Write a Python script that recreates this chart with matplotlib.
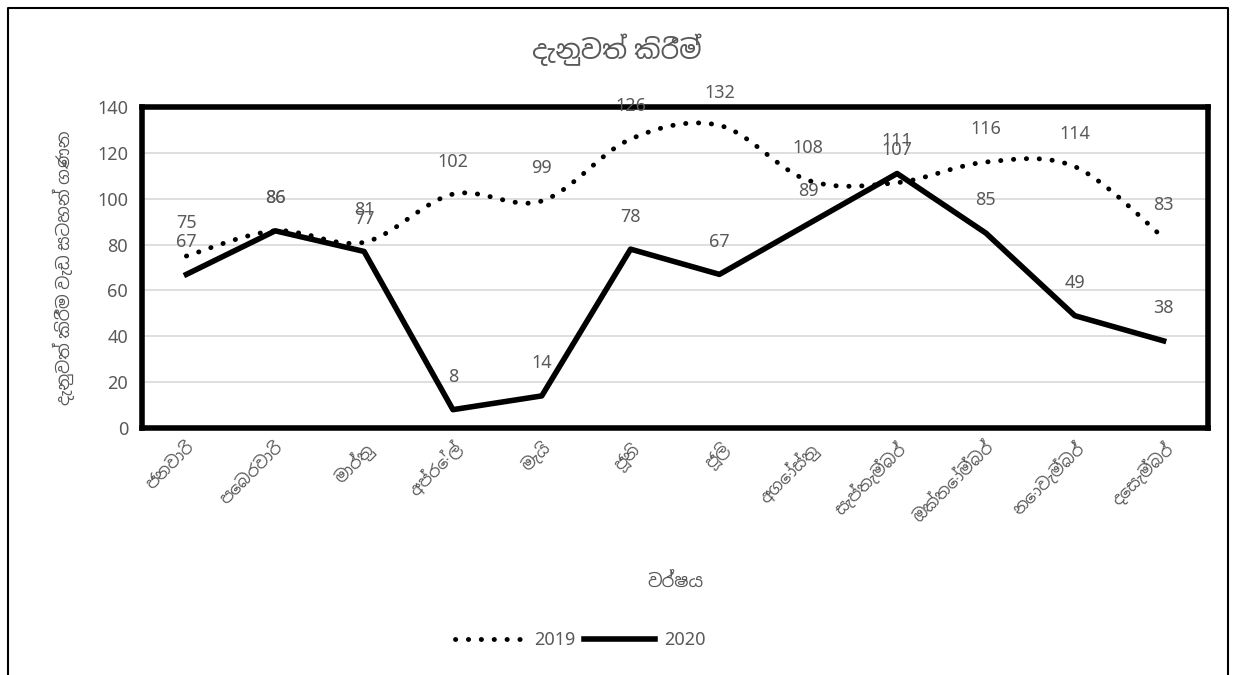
import matplotlib
matplotlib.use("Agg")
import matplotlib.pyplot as plt
from matplotlib.path import Path
from matplotlib.patches import PathPatch
from matplotlib.lines import Line2D

months = ["ජනවාරි", "පෙබරවාරි", "මාර්තු", "අප්‍රේල්", "මැයි", "ජූනි", "ජූලි",
          "අගෝස්තු", "සැප්තැම්බර්", "ඔක්තෝම්බර්", "නොවැම්බර්", "දෙසැම්බර්"]
y2019 = [75, 86, 81, 102, 99, 126, 132, 108, 107, 116, 114, 83]
y2020 = [67, 86, 77, 8, 14, 78, 67, 89, 111, 85, 49, 38]
title = "දැනුවත් කිරීම්"
ylabel = "දැනුවත් කිරීම වැඩ සටහන් ගණන"
xlabel = "වර්ෂය"

plt.rcParams["font.family"] = ["Noto Sans", "Noto Sans Sinhala", "DejaVu Sans"]

GRAY = "#595959"
DOTS = (0, (0.05, 2.6))
fig = plt.figure(figsize=(12.34, 6.75), dpi=100)
ax = fig.add_axes([142 / 1234, 1 - 428 / 675, 1066 / 1234, 321 / 675])

x = list(range(len(months)))

# smoothed 2019 line (Catmull-Rom drawn as cubic Bezier segments)
pts = list(zip(x, y2019))
verts = [pts[0]]
codes = [Path.MOVETO]
for i in range(len(pts) - 1):
    p0 = pts[i - 1] if i > 0 else pts[i]
    p1, p2 = pts[i], pts[i + 1]
    p3 = pts[i + 2] if i + 2 < len(pts) else pts[i + 1]
    c1 = (p1[0] + (p2[0] - p0[0]) / 6, p1[1] + (p2[1] - p0[1]) / 6)
    c2 = (p2[0] - (p3[0] - p1[0]) / 6, p2[1] - (p3[1] - p1[1]) / 6)
    verts += [c1, c2, p2]
    codes += [Path.CURVE4] * 3
ax.add_patch(PathPatch(Path(verts, codes), fill=False, lw=3.5, ec="black",
                       ls=DOTS, capstyle="round", zorder=3))
ax.plot(x, y2020, color="black", lw=4, zorder=4)

for series in (y2019, y2020):
    for xi, v in zip(x, series):
        ax.annotate(str(v), (xi, v), xytext=(0, 17), textcoords="offset points",
                    ha="center", va="bottom", fontsize=13, color=GRAY, zorder=5)

ax.set_xlim(-0.5, len(months) - 0.5)
ax.set_ylim(0, 140)
ax.set_yticks(range(0, 141, 20))
ax.grid(axis="y", color="#d9d9d9", lw=1.2)
ax.set_axisbelow(True)
for s in ax.spines.values():
    s.set_linewidth(4)
    s.set_color("black")
ax.tick_params(axis="y", length=0, labelsize=13, labelcolor=GRAY, pad=10)
ax.tick_params(axis="x", length=0, labelsize=12, labelcolor=GRAY, pad=8)
ax.set_xticks(x)
ax.set_xticklabels(months, rotation=45, ha="right", rotation_mode="anchor")
ax.set_ylabel(ylabel, fontsize=12.5, color=GRAY, labelpad=16)
ax.set_xlabel(xlabel, fontsize=13, color=GRAY, labelpad=34)
fig.text(0.5, 1 - 50 / 675, title, ha="center", va="center", fontsize=19, color=GRAY)

handles = [Line2D([], [], color="black", lw=3.5, ls=DOTS, dash_capstyle="round"),
           Line2D([], [], color="black", lw=4)]
fig.legend(handles, ["2019", "2020"], loc="center", bbox_to_anchor=(580 / 1234, 1 - 640 / 675),
           ncol=2, frameon=False, fontsize=13, labelcolor=GRAY, handlelength=3.9,
           handletextpad=0.5, columnspacing=0.5)

# outer chart border (bottom edge lies below the image)
fig.add_artist(Line2D([8 / 1234, 8 / 1234, 1228 / 1234, 1228 / 1234],
                      [0, 1 - 8 / 675, 1 - 8 / 675, 0], color="black", lw=1.5))

fig.savefig("out.png", dpi=100)
